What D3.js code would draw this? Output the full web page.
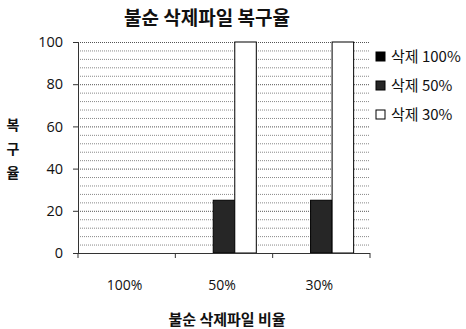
<!DOCTYPE html>
<html><head><meta charset="utf-8">
<script src="https://cdn.jsdelivr.net/npm/d3@7"></script>
<style>body{margin:0;background:#fff}svg{display:block}text{font-family:"Noto Sans CJK KR","Noto Sans",sans-serif;fill:#111}</style>
</head><body><svg id="c" width="466" height="329"></svg>
<script>
const categories = ["100%", "50%", "30%"];
const seriesNames = ["삭제 100%", "삭제 50%", "삭제 30%"];
const del100 = [0, 0, 0];
const del50 = [0, 25, 25];
const del30 = [0, 100, 100];
const yTicks = [0, 20, 40, 60, 80, 100];
const gridStep = 4;

const seriesVals = [del100, del50, del30];
const fills = ["#000", "#262626", "#fff"];
const svg = d3.select("#c");
const L = 78, R = 370, T = 42, B = 253;
const x = d3.scaleBand().domain(categories).range([L, R]).paddingInner(0).paddingOuter(0);
const xs = d3.scaleBand().domain(seriesNames).range([0, x.bandwidth()]).paddingInner(0).paddingOuter(0.76);
const y = d3.scaleLinear().domain([0, 100]).range([B, T]);

// gridlines
const grid = d3.range(0, 101, gridStep);
svg.append("g").selectAll("line").data(grid).join("line")
  .attr("x1", L).attr("x2", R).attr("y1", d => y(d) + 0.5).attr("y2", d => y(d) + 0.5)
  .attr("stroke", d => d % 20 === 0 ? "#555" : "#888").attr("stroke-width", 1)
  .attr("stroke-dasharray", "1,1");

// bars
categories.forEach((c, ci) => {
  seriesNames.forEach((s, si) => {
    const v = seriesVals[si][ci];
    if (v <= 0) return;
    svg.append("rect")
      .attr("x", x(c) + xs(s)).attr("y", y(v))
      .attr("width", xs.bandwidth()).attr("height", B - y(v))
      .attr("fill", fills[si]).attr("stroke", "#000").attr("stroke-width", 1);
  });
});

// axes
const yAxis = d3.axisLeft(y).tickValues(yTicks).tickSize(5).tickPadding(10);
const gy = svg.append("g").attr("transform", `translate(${L},0)`).call(yAxis);
gy.select(".domain").attr("stroke", "#333");
gy.selectAll(".tick line").attr("stroke", "#333");
gy.selectAll("text").attr("font-size", 14.5).style("font-family", "'Open Sans', sans-serif");

const gx = svg.append("g").attr("transform", `translate(0,${B})`);
gx.append("line").attr("x1", L).attr("x2", R).attr("y1", 0.5).attr("y2", 0.5).attr("stroke", "#333");
const bounds = categories.map(c => x(c)).concat([R]);
gx.selectAll("line.t").data(bounds).join("line").attr("class", "t")
  .attr("x1", d => d).attr("x2", d => d).attr("y1", 0).attr("y2", 5).attr("stroke", "#333");
gx.selectAll("text").data(categories).join("text")
  .attr("x", d => x(d) + x.bandwidth() / 2 - 2).attr("y", 37)
  .attr("text-anchor", "middle").attr("font-size", 14).style("font-family", "'Open Sans', sans-serif")
  .text(d => d);

// title
svg.append("text").attr("x", 207).attr("y", 25).attr("text-anchor", "middle")
  .attr("font-size", 19).attr("font-weight", "bold").text("불순 삭제파일 복구율");
// x label
svg.append("text").attr("x", 227).attr("y", 325).attr("text-anchor", "middle")
  .attr("font-size", 15).attr("font-weight", "bold").text("불순 삭제파일 비율");
// y label vertical stacked
["복", "구", "율"].forEach((ch, i) => {
  svg.append("text").attr("x", 13).attr("y", 130 + i * 24).attr("text-anchor", "middle")
    .attr("font-size", 14).attr("font-weight", "bold").text(ch);
});

// legend
const lg = svg.append("g");
seriesNames.forEach((s, i) => {
  const yy = 57 + i * 29;
  lg.append("rect").attr("x", 376).attr("y", yy - 5).attr("width", 9).attr("height", 9)
    .attr("fill", fills[i]).attr("stroke", "#000");
  lg.append("text").attr("x", 391).attr("y", yy + 5).attr("font-size", 15).text(s);
});
</script></body></html>
